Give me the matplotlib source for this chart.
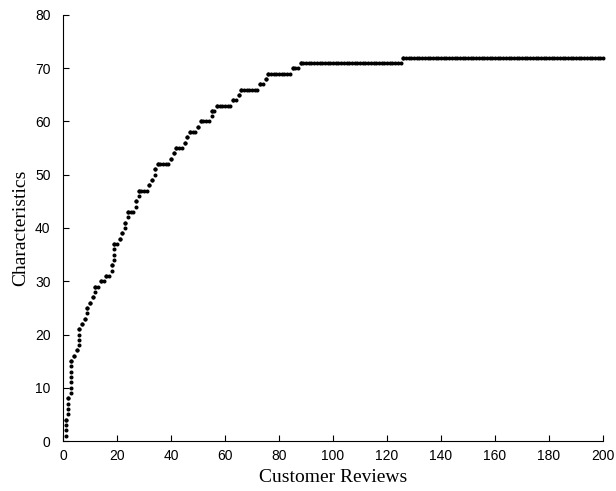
import numpy as np
import matplotlib
matplotlib.use("Agg")
import matplotlib.pyplot as plt

# review index at which each characteristic (1..72) first shows up
first_review = [1, 1, 1, 1, 2, 2, 2, 2, 3, 3, 3, 3, 3, 3, 3, 4, 5,
                6, 6, 6, 6, 7, 8, 9, 9, 10, 11, 12, 12, 14, 16, 18, 18,
                19, 19, 19, 19, 21, 22, 23, 23, 24, 24, 27, 27, 28, 28,
                32, 33, 34, 34, 35, 40, 41, 42, 45, 46, 47, 50, 51, 55, 55,
                57, 63, 65, 66, 73, 75, 76, 85, 88, 126]
n_reviews = 200

first_review = np.array(first_review)
levels = np.arange(1, len(first_review) + 1)
reviews = np.arange(1, n_reviews + 1)
cum = np.array([(first_review <= r).sum() for r in reviews])

xs = np.concatenate([first_review, reviews])
ys = np.concatenate([levels, cum])

fig = plt.figure(figsize=(6.16, 4.91), dpi=100)
ax = fig.add_axes([0.1023, 0.1018, 0.8767, 0.8677])
ax.plot(xs, ys, linestyle="none", marker="o", ms=1.9, color="black", clip_on=False)

ax.set_xlim(0, 200)
ax.set_ylim(0, 80)
ax.set_xticks(np.arange(0, 201, 20))
ax.set_yticks(np.arange(0, 81, 10))
for s in ["top", "right"]:
    ax.spines[s].set_visible(False)
ax.tick_params(direction="in", length=4, width=0.8, labelsize=10)
ax.tick_params(axis="x", pad=6)
ax.tick_params(axis="y", pad=9)
for lab in ax.get_xticklabels() + ax.get_yticklabels():
    lab.set_family("Liberation Sans")

ax.set_xlabel("Customer Reviews", family="Liberation Serif", fontsize=14, labelpad=4)
ax.set_ylabel("Characteristics", family="Liberation Serif", fontsize=14, labelpad=4)

fig.savefig("out.png", dpi=100)
